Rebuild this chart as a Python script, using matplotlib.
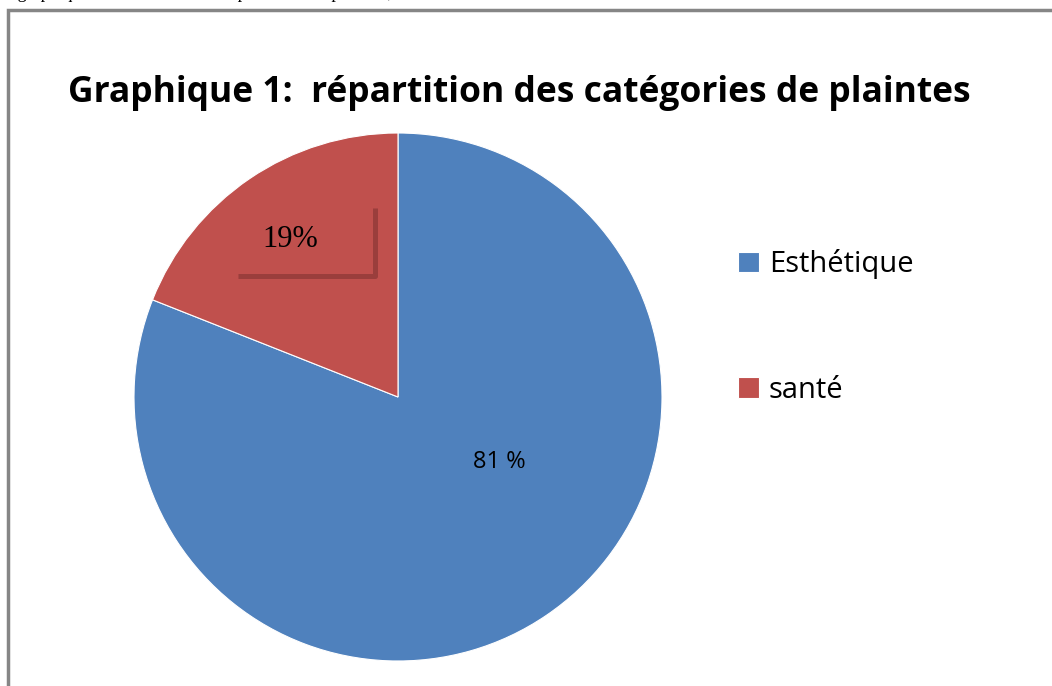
import matplotlib.pyplot as plt
from matplotlib.patches import Rectangle

categories = ['Esthétique', 'santé']
values = [81, 19]
labels = ['81 %', '19%']
colors = ['#4F81BD', '#C0504D']

W, H = 1052, 686
fig = plt.figure(figsize=(W / 100, H / 100), dpi=100)
fig.patch.set_facecolor('white')

# cadre du graphique (coupe a droite et en bas)
fig.patches.append(Rectangle((8 / W, -0.1), 1.2, 1.1 - 10 / H,
                             transform=fig.transFigure, fill=False,
                             edgecolor='#868686', linewidth=2.5))

# texte du document, presque entierement hors de l'image
fig.text(392 / W, 1 + 2 / H, 'Le graphique suivant montre la répartition des plaintes;',
         fontsize=13, family='Liberation Serif', va='baseline', ha='right')

# camembert
cx, cy, r = 398, 397, 264
ax = fig.add_axes([(cx - r) / W, (H - cy - r) / H, 2 * r / W, 2 * r / H])
wedges, _ = ax.pie(values, colors=colors, startangle=90, counterclock=False,
                   wedgeprops=dict(linewidth=0.8, edgecolor='white'))
ax.set_xlim(-1, 1)
ax.set_ylim(-1, 1)
ax.set_aspect('equal')
ax.axis('off')

# etiquettes
ax.text(0.385, -0.245, labels[0], fontsize=17, family='Open Sans',
        ha='center', va='center')
ax.text(-0.41, 0.595, labels[1], fontsize=22, family='Liberation Serif',
        ha='center', va='center')
# petit cadre d'ombre de l'etiquette 19%
ax.plot([-0.606, -0.087, -0.087], [0.458, 0.458, 0.716], color='#9A3E3C',
        linewidth=3.6, solid_capstyle='butt')

fig.text(519 / W, 1 - 93 / H, 'Graphique 1:  répartition des catégories de plaintes',
         fontsize=25.5, fontweight='bold', family='Open Sans',
         ha='center', va='center')

leg = fig.legend(wedges, categories, loc='upper left',
                 bbox_to_anchor=(715 / W, 1 - 226 / H), frameon=False,
                 prop={'family': 'Open Sans', 'size': 21},
                 handlelength=0.7, handleheight=0.7, handletextpad=0.35,
                 labelspacing=3.3, borderpad=0.3)

fig.savefig('out.png', dpi=100)
